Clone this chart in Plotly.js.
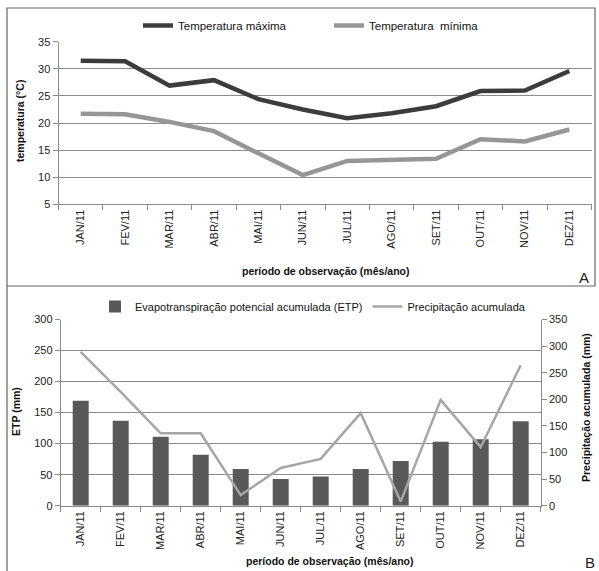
<!DOCTYPE html>
<html>
<head>
<meta charset="utf-8">
<script src="https://cdn.plot.ly/plotly-3.0.1.min.js"></script>
<style>html,body{margin:0;padding:0;background:#fff;}#chart{width:599px;height:571px;}</style>
</head>
<body>
<div id="chart"></div>
<script>
const months = ["JAN/11","FEV/11","MAR/11","ABR/11","MAI/11","JUN/11","JUL/11","AGO/11","SET/11","OUT/11","NOV/11","DEZ/11"];
const tempMax = [31.5, 31.4, 26.9, 27.9, 24.4, 22.5, 20.9, 21.8, 23.1, 25.9, 26.0, 29.6];
const tempMin = [21.7, 21.6, 20.2, 18.5, 14.4, 10.4, 13.0, 13.3, 13.4, 17.0, 16.6, 18.8];
const etp = [169, 137, 111, 82, 59, 43, 47, 59, 72, 103, 107, 136];
const precip = [289, 214, 136, 136, 20, 71, 88, 174, 8, 199, 110, 264];

const W = 599, H = 571;
const px = v => v / W;
const py = v => 1 - v / H;
const FONT = "Liberation Sans, Arial, sans-serif";
const tickFont = {family: FONT, size: 11, color: "#222"};
const titleFont = {family: FONT, size: 10.5, color: "#111", weight: "bold"};
const gridC = "#8a8a8a";

const traces = [
  {x: months, y: tempMax, type: "scatter", mode: "lines", name: "Temperatura máxima",
   line: {color: "#3c3c3c", width: 4.5}, xaxis: "x", yaxis: "y", legend: "legend"},
  {x: months, y: tempMin, type: "scatter", mode: "lines", name: "Temperatura  mínima",
   line: {color: "#969696", width: 4.5}, xaxis: "x", yaxis: "y", legend: "legend"},
  {x: months, y: etp, type: "bar", name: "Evapotranspiração potencial acumulada (ETP)",
   marker: {color: "#595959"}, xaxis: "x2", yaxis: "y2", legend: "legend2"},
  {x: months, y: precip, type: "scatter", mode: "lines", name: "Precipitação acumulada",
   line: {color: "#a6a6a6", width: 2.5}, xaxis: "x2", yaxis: "y3", legend: "legend2"}
];

const xCommon = {
  type: "category", range: [-0.5, 11.5], tickson: "boundaries", ticks: "outside", ticklen: 5,
  tickcolor: gridC, showline: true, linecolor: gridC, linewidth: 1, showgrid: false,
  tickangle: -90, tickfont: tickFont, fixedrange: true
};

const ann = (text, x, y, extra) => Object.assign({
  text: text, xref: "paper", yref: "paper", x: px(x), y: py(y),
  xanchor: "center", yanchor: "middle", showarrow: false, font: titleFont
}, extra || {});

const layout = {
  width: W, height: H,
  margin: {l: 0, r: 0, t: 0, b: 0},
  paper_bgcolor: "#fff", plot_bgcolor: "#fff",
  showlegend: true,
  bargap: 0.6,
  xaxis: Object.assign({}, xCommon, {domain: [px(58.5), px(591.5)], anchor: "y"}),
  yaxis: {domain: [py(204.3), py(41.7)], range: [5, 35], dtick: 5, tick0: 5, anchor: "x",
          showgrid: true, gridcolor: gridC, gridwidth: 1, zeroline: false,
          showline: true, linecolor: gridC, ticks: "outside", ticklen: 5, tickcolor: gridC,
          tickfont: tickFont, fixedrange: true},
  xaxis2: Object.assign({}, xCommon, {domain: [px(60.7), px(540.7)], anchor: "y2"}),
  yaxis2: {domain: [py(505.7), py(319.5)], range: [0, 300], dtick: 50, anchor: "x2",
           showgrid: true, gridcolor: gridC, gridwidth: 1, zeroline: false,
           showline: true, linecolor: gridC, ticks: "outside", ticklen: 5, tickcolor: gridC,
           tickfont: tickFont, fixedrange: true},
  yaxis3: {overlaying: "y2", side: "right", anchor: "x2", range: [0, 350], dtick: 50,
           showgrid: false, zeroline: false, showline: true, linecolor: gridC,
           ticks: "outside", ticklen: 5, tickcolor: gridC, tickfont: tickFont, fixedrange: true},
  legend: {orientation: "h", x: px(138), y: py(11), xanchor: "left", yanchor: "top",
           font: {family: FONT, size: 11.5, color: "#111"}, bgcolor: "rgba(0,0,0,0)",
           entrywidth: 146, itemwidth: 30, traceorder: "normal"},
  legend2: {orientation: "h", x: px(95), y: py(292), xanchor: "left", yanchor: "top",
           font: {family: FONT, size: 11, color: "#111"}, bgcolor: "rgba(0,0,0,0)",
           itemwidth: 30, traceorder: "normal"},
  annotations: [
    ann("temperatura (°C)", 20, 121, {textangle: -90}),
    ann("período de observação (mês/ano)", 325, 271),
    ann("A", 584, 277, {font: {family: FONT, size: 15, color: "#222"}}),
    ann("ETP (mm)", 16, 412, {textangle: -90}),
    ann("Precipitação acumulada (mm)", 586, 408, {textangle: -90}),
    ann("período de observação (mês/ano)", 329, 561),
    ann("B", 590, 562, {font: {family: FONT, size: 15, color: "#222"}})
  ],
  shapes: [
    {type: "rect", xref: "paper", yref: "paper", x0: px(7), x1: px(595), y0: py(286), y1: py(8),
     line: {color: "#666", width: 1.2}},
    {type: "line", xref: "paper", yref: "paper", x0: px(7), x1: px(7), y0: py(286), y1: py(571),
     line: {color: "#666", width: 1.2}}
  ]
};

Plotly.newPlot("chart", traces, layout, {displayModeBar: false, staticPlot: true});
</script>
</body>
</html>
